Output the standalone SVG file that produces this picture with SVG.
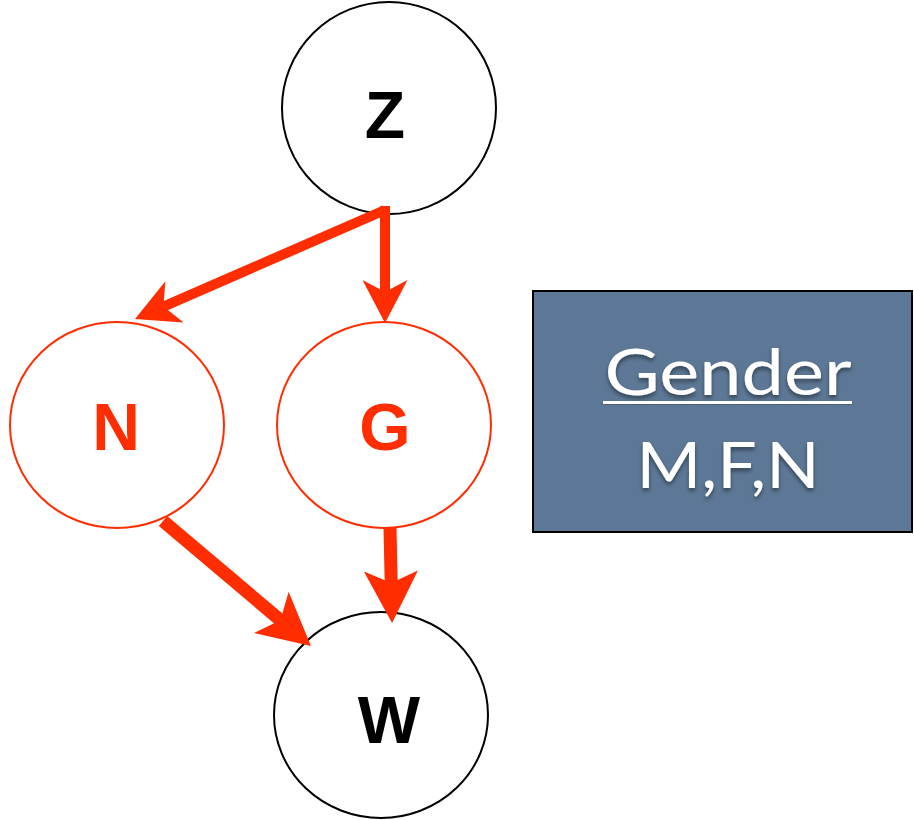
<svg xmlns="http://www.w3.org/2000/svg" width="914" height="820" viewBox="0 0 914 820">
<style>
.node{fill:#fff;stroke-width:2}
.blk{stroke:#000}
.red{stroke:#ff2d00}
.lbl{font-family:"Liberation Sans",Arial,sans-serif;font-weight:bold;font-size:66px;text-anchor:middle}
.edge{stroke:#ff2d00;fill:none}
.thin{stroke-width:10;marker-end:url(#ahs)}
.thick{stroke-width:13;marker-end:url(#ahl)}
.head{fill:#ff2d00}
.box{font-family:Lato,"Open Sans",sans-serif;fill:#fff;font-size:64px;text-anchor:middle;filter:url(#sh)}
</style>
<defs>
<marker id="ahs" viewBox="0 0 43 45" refX="12" refY="22.5" markerWidth="43" markerHeight="45" markerUnits="userSpaceOnUse" orient="auto">
<path class="head" d="M0,0 L43,22.5 L0,45 L12,22.5 z"/>
</marker>
<marker id="ahl" viewBox="0 0 52 54" refX="12" refY="27" markerWidth="52" markerHeight="54" markerUnits="userSpaceOnUse" orient="auto">
<path class="head" d="M0,0 L52,27 L0,54 L12,27 z"/>
</marker>
<filter id="sh" x="-10%" y="-20%" width="120%" height="150%">
<feDropShadow dx="0" dy="3" stdDeviation="2" flood-color="#000" flood-opacity="0.45"/>
</filter>
</defs>
<g id="Z"><ellipse class="node blk" cx="389" cy="108" rx="107" ry="106"/><text class="lbl" x="385" y="138">Z</text></g>
<g id="N"><ellipse class="node red" cx="117" cy="425" rx="107" ry="103"/><text class="lbl" x="116" y="450" fill="#ff2d00">N</text></g>
<g id="G"><ellipse class="node red" cx="384" cy="425" rx="107" ry="103"/><text class="lbl" x="385" y="450" fill="#ff2d00">G</text></g>
<g id="W"><ellipse class="node blk" cx="381" cy="715" rx="107" ry="103"/><text class="lbl" x="389" y="743">W</text></g>
<g id="connectors">
<path class="edge thin" d="M385,210 L163.4,306.6"/>
<path class="edge thin" d="M385,206 L385,292"/>
<path class="edge thick" d="M163,521 L280.4,620.2"/>
<path class="edge thick" d="M390,528 L391.2,583"/>
</g>
<g id="gender">
<rect x="533" y="291" width="379" height="241" fill="#5d7896" stroke="#000" stroke-width="2"/>
<text class="box" x="728" y="395" textLength="247" lengthAdjust="spacingAndGlyphs">Gender</text>
<rect x="603" y="401" width="249" height="3" fill="#fff" filter="url(#sh)"/>
<text class="box" x="728" y="488" textLength="183" lengthAdjust="spacingAndGlyphs">M,F,N</text>
</g>
</svg>
